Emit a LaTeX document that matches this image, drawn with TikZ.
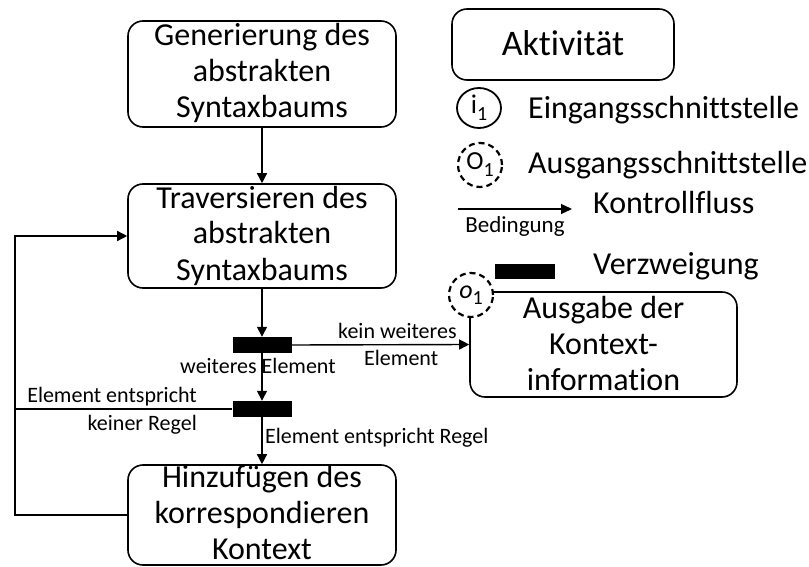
\documentclass[tikz,border=0pt]{standalone}
\usepackage{fontspec}
\setmainfont{Carlito}[Ligatures=NoCommon]
\usetikzlibrary{arrows.meta,shapes.geometric}

\newcommand\fsbig{\fontsize{32}{36}\selectfont}
\newcommand\fssmall{\fontsize{22}{26}\selectfont}
\newcommand\fsleg{\fontsize{23}{27}\selectfont}

\begin{document}
\begin{tikzpicture}[x=1pt,y=-1pt,
  activity/.style={draw, line width=1.6pt, rounded corners=15pt, inner sep=0pt},
  boxtext/.style={font=\fsbig, align=center, inner sep=0pt},
  bar/.style={fill=black, draw=none, minimum width=59pt, minimum height=16pt, inner sep=0pt},
  flow/.style={line width=1.4pt, -{Triangle[length=10pt,width=10pt]}},
  plain/.style={line width=1.4pt},
  lbl/.style={font=\fssmall, inner sep=0pt},
  legtext/.style={font=\fsbig, inner sep=0pt, anchor=base west},
  iface/.style={draw, line width=1.8pt, ellipse, minimum width=44pt, minimum height=40pt, inner sep=0pt},
  oface/.style={draw, line width=2.2pt, dash pattern=on 6pt off 4pt, circle, minimum size=44pt, inner sep=0pt}
]
\useasboundingbox (0,0) rectangle (809,567);

% main flow: activities
\node[activity, minimum width=268pt, minimum height=106pt] (b1) at (262,74) {};
\node[boxtext] (t1) at (262,74.8) {\strut Generierung des\\abstrakten\\Syntaxbaums\strut};

\node[activity, minimum width=268pt, minimum height=104pt] (b2) at (262,236) {};
\node[boxtext] (t2) at (262,236.8) {\strut Traversieren des\\abstrakten\\Syntaxbaums\strut};

\node[activity, minimum width=268pt, minimum height=100pt] (b3) at (262,515) {};
\node[boxtext] (t3) at (262,511.4) {\strut Hinzufügen des\\korrespondieren\\Kontext};

\node[activity, minimum width=267pt, minimum height=105pt] (b4) at (603.5,344.5) {};
\node[boxtext] (t4) at (603.5,346.8) {\strut Ausgabe der\\Kontext-\\information\strut};

% output interface of the result activity
\node[oface, fill=white] (o1) at (471,295) {\fontsize{26}{30}\selectfont\itshape o\raisebox{-6pt}{\upshape\fontsize{20}{24}\selectfont 1}};

% branches
\node[bar] (bar1) at (262,345) {};
\node[bar] (bar2) at (262,409) {};

% connectors
\draw[flow] (b1.south) -- (b2.north);
\draw[flow] (b2.south) -- (bar1.north);
\draw[flow] (bar1.south) -- (bar2.north);
\draw[flow] (bar2.south) -- (b3.north);
\draw[flow] (bar1.east) -- (b4.west);

\coordinate (lx) at (15,0);
\draw[flow] (b3.west) -- (b3.west -| lx) -- (b2.west -| lx) -- (b2.west);
\draw[plain] (bar2.west) -- (bar2.west -| lx);

% connector labels
\node[lbl, anchor=base west] (l1) at (338,338) {kein weiteres};
\node[lbl, anchor=base west] (l2) at (364,365) {Element};
\node[lbl, anchor=base west] (l3) at (180,373) {weiteres Element};
\node[lbl, anchor=base east] (l4) at (197,402) {Element entspricht};
\node[lbl, anchor=base east] (l5) at (197,430) {keiner Regel};
\node[lbl, anchor=base west] (l6) at (265,443) {Element entspricht Regel};

% legend
\node[activity, minimum width=222pt, minimum height=71pt] (lgact) at (563,44.5) {};
\node[font=\fontsize{36}{40}\selectfont, inner sep=0pt, anchor=base] (lgacttext) at (563,56) {Aktivität};

\node[iface] (lgin) at (479,108) {\fontsize{27}{30}\selectfont i\raisebox{-7pt}{\fontsize{20}{24}\selectfont 1}};
\node[legtext] (lgintext) at (528,119) {Eingangsschnittstelle};

\node[oface] (lgout) at (480,165) {\fontsize{26}{30}\selectfont O\raisebox{-7pt}{\fontsize{20}{24}\selectfont 1}};
\node[legtext] (lgouttext) at (528,174) {Ausgangsschnittstelle};

\coordinate (ka) at (458,209);
\coordinate (kb) at (572,209);
\draw[line width=1.4pt, -{Triangle[length=11pt,width=10pt]}] (ka) -- (kb);
\node[font=\fsleg, inner sep=0pt, anchor=base] (lgcond) at (515,232) {Bedingung};
\node[legtext] (lgflow) at (593,214) {Kontrollfluss};

\node[bar, minimum width=60pt, minimum height=15pt] (lgbar) at (525,271.5) {};
\node[legtext] (lgbartext) at (593,274) {Verzweigung};
\end{tikzpicture}
\end{document}
